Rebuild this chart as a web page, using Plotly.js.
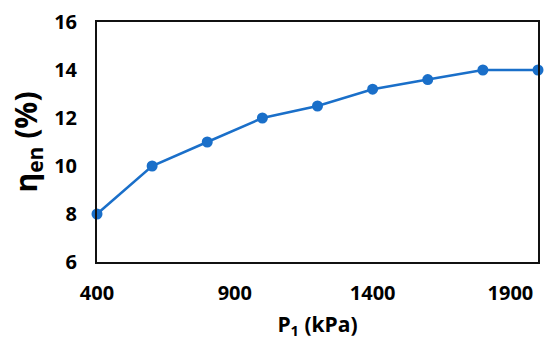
<!DOCTYPE html>
<html><head><meta charset="utf-8">
<script src="https://cdn.plot.ly/plotly-3.0.1.min.js"></script>
<style>html,body{margin:0;padding:0;background:#fff}#c{width:550px;height:355px}</style>
</head><body><div id="c"></div>
<script>
const pressure = [400, 600, 800, 1000, 1200, 1400, 1600, 1800, 2000];
const efficiency = [8, 10, 11, 12, 12.5, 13.2, 13.6, 14, 14];
const xTicks = [400, 900, 1400, 1900];
const yTicks = [6, 8, 10, 12, 14, 16];

const fontFam = 'Open Sans, Lato, sans-serif';
Plotly.newPlot('c', [{
  x: pressure, y: efficiency, type: 'scatter', mode: 'lines+markers',
  line: {color: '#1a6fc9', width: 2.5},
  marker: {color: '#1a6fc9', size: 11},
  cliponaxis: false
}], {
  width: 550, height: 355,
  margin: {l: 97, r: 12, t: 22, b: 93},
  paper_bgcolor: '#fff', plot_bgcolor: '#fff',
  showlegend: false,
  font: {family: fontFam, color: '#000'},
  xaxis: {
    range: [400, 2000], tickvals: xTicks, ticktext: xTicks.map(String),
    showgrid: false, zeroline: false,
    showline: true, mirror: true, linecolor: '#111', linewidth: 2,
    ticks: '', ticklabelstandoff: 12,
    tickfont: {size: 20, family: fontFam, weight: 'bold'},
    title: {text: 'P<sub>1</sub> (kPa)', font: {size: 21, family: fontFam, weight: 'bold'}, standoff: 12}
  },
  yaxis: {
    range: [6, 16], tickvals: yTicks, ticktext: yTicks.map(String),
    showgrid: false, zeroline: false,
    showline: true, mirror: true, linecolor: '#111', linewidth: 2,
    ticks: '', ticklabelstandoff: 14,
    tickfont: {size: 20, family: fontFam, weight: 'bold'},
    title: {text: 'η<sub>en</sub> (%)', font: {size: 30, family: fontFam, weight: 'bold'}, standoff: 8}
  }
}, {staticPlot: true});
</script></body></html>
